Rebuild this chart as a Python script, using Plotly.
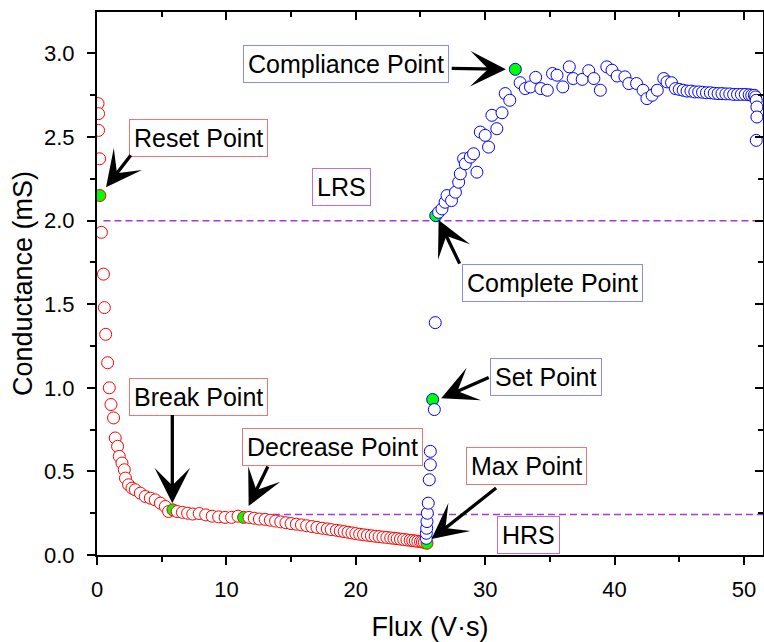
import plotly.graph_objects as go

# ---- Reset sweep (red) ----
red_x = [0.08, 0.12, 0.12, 0.20, 0.22, 0.34, 0.50, 0.57, 0.67, 0.82,
         0.95, 1.08, 1.28, 1.41, 1.59, 1.72, 1.93, 2.11, 2.20, 2.44,
         2.70, 2.96, 3.35, 3.73, 4.12, 4.50, 4.90, 5.28, 5.53, 5.87,
         6.20, 6.60, 7.00, 7.40, 7.90, 8.40, 8.90, 9.40, 9.90, 10.40,
         10.90, 11.33, 11.75, 12.15, 12.55, 13.00, 13.40, 13.80, 14.20, 14.60,
         15.00, 15.40, 15.80, 16.20, 16.60, 17.00, 17.40, 17.80, 18.10, 18.50,
         18.80, 19.10, 19.40, 19.70, 20.00, 20.30, 20.60, 20.90, 21.20, 21.50,
         21.80, 22.10, 22.40, 22.70, 22.95, 23.20, 23.45, 23.70, 23.95, 24.20,
         24.40, 24.60, 24.80, 25.00, 25.15, 25.30, 25.50]
red_y = [2.70, 2.64, 2.54, 2.37, 2.15, 1.93, 1.68, 1.48, 1.32, 1.15,
         1.00, 0.90, 0.82, 0.70, 0.65, 0.59, 0.55, 0.51, 0.46, 0.42,
         0.40, 0.39, 0.37, 0.35, 0.34, 0.33, 0.31, 0.29, 0.26, 0.27,
         0.26, 0.255, 0.25, 0.245, 0.248, 0.24, 0.232, 0.228, 0.225, 0.225,
         0.232, 0.225, 0.225, 0.22, 0.215, 0.213, 0.208, 0.203, 0.198, 0.193,
         0.188, 0.184, 0.18, 0.175, 0.17, 0.165, 0.16, 0.156, 0.152, 0.148,
         0.144, 0.14, 0.136, 0.132, 0.128, 0.124, 0.121, 0.118, 0.115, 0.112,
         0.11, 0.107, 0.105, 0.102, 0.10, 0.098, 0.095, 0.093, 0.09, 0.088,
         0.086, 0.084, 0.082, 0.08, 0.078, 0.076, 0.07]
# highlighted points of the reset sweep: Reset, Break, Decrease, Max
red_key_x = [0.22, 5.87, 11.33, 25.50]

# ---- Set sweep (blue) ----
blue_x = [25.45, 25.45, 25.48, 25.50, 25.53, 25.60, 25.68, 25.76, 25.76, 25.94,
          26.07, 26.14, 26.18, 26.40, 26.66, 26.90, 27.05, 27.40, 27.70, 27.95,
          28.08, 28.33, 28.46, 28.85, 29.10, 29.36, 29.62, 30.00, 30.26, 30.52,
          30.90, 31.30, 31.55, 31.90, 32.33, 32.70, 33.10, 33.50, 33.90, 34.30,
          34.80, 35.20, 35.55, 36.00, 36.50, 36.80, 37.50, 38.00, 38.40, 38.90,
          39.40, 39.80, 40.20, 40.80, 41.10, 41.70, 42.20, 42.50, 42.90, 43.30,
          43.80, 44.05, 44.40, 44.70, 45.00, 45.30, 45.60, 45.90, 46.20, 46.50,
          46.80, 47.10, 47.40, 47.70, 48.00, 48.30, 48.60, 48.90, 49.20, 49.50,
          49.80, 50.10, 50.40, 50.60, 50.80, 50.90, 50.95, 51.00, 51.00, 50.95]
blue_y = [0.10, 0.13, 0.16, 0.20, 0.25, 0.31, 0.45, 0.54, 0.62, 0.93,
          0.87, 1.39, 2.03, 2.05, 2.07, 2.11, 2.15, 2.12, 2.17, 2.23,
          2.28, 2.37, 2.34, 2.38, 2.40, 2.29, 2.53, 2.51, 2.44, 2.63,
          2.55, 2.645, 2.76, 2.72, 2.905, 2.825, 2.79, 2.80, 2.857, 2.79,
          2.78, 2.88, 2.87, 2.80, 2.92, 2.85, 2.845, 2.897, 2.85, 2.78,
          2.92, 2.90, 2.865, 2.86, 2.82, 2.82, 2.78, 2.73, 2.75, 2.78,
          2.85, 2.83, 2.825, 2.79, 2.785, 2.78, 2.775, 2.775, 2.77, 2.77,
          2.768, 2.765, 2.765, 2.762, 2.76, 2.76, 2.758, 2.758, 2.755, 2.755,
          2.755, 2.755, 2.753, 2.75, 2.75, 2.74, 2.72, 2.68, 2.62, 2.48]
# highlighted points of the set sweep: Set, Complete, Compliance
blue_key_x = [25.94, 26.18, 32.33]

# ---- state levels ----
lrs_level = 2.0
lrs_start = 0.5
hrs_level = 0.243
hrs_start = 12.75

x_ticks = [0, 10, 20, 30, 40, 50]
y_ticks = [0.0, 0.5, 1.0, 1.5, 2.0, 2.5, 3.0]
y_tick_text = ["0.0", "0.5", "1.0", "1.5", "2.0", "2.5", "3.0"]

X_RANGE = [0, 51.47]
Y_RANGE = [0, 3.248]

FONT = "Liberation Sans, Arial, sans-serif"
GREEN = "#00FF00"
PURPLE = "#A23BDB"

fig = go.Figure()

# dashed state lines
fig.add_trace(go.Scatter(x=[lrs_start, X_RANGE[1]], y=[lrs_level, lrs_level], mode="lines",
                         line=dict(color=PURPLE, width=1.5, dash="7px,4px"),
                         hoverinfo="skip", showlegend=False))
fig.add_trace(go.Scatter(x=[hrs_start, X_RANGE[1]], y=[hrs_level, hrs_level], mode="lines",
                         line=dict(color=PURPLE, width=1.5, dash="7px,4px"),
                         hoverinfo="skip", showlegend=False))

red_fill = [GREEN if v in red_key_x else "white" for v in red_x]
blue_fill = [GREEN if v in blue_key_x else "white" for v in blue_x]

fig.add_trace(go.Scatter(x=red_x, y=red_y, mode="markers",
                         marker=dict(symbol="circle", size=12, color=red_fill,
                                     line=dict(color="#FF0000", width=1)),
                         showlegend=False))
fig.add_trace(go.Scatter(x=blue_x, y=blue_y, mode="markers",
                         marker=dict(symbol="circle", size=12, color=blue_fill,
                                     line=dict(color="#0000FF", width=1)),
                         showlegend=False))
# helper trace for the mirrored top/right axes
fig.add_trace(go.Scatter(x=[None], y=[None], xaxis="x2", yaxis="y2",
                         mode="markers", showlegend=False, hoverinfo="skip"))

RED_BOX = "#E87878"
BLUE_BOX = "#8C8CF0"
PUR_BOX = "#C070C8"

labels = [
    ("Reset Point", 7.87, 2.497, RED_BOX),
    ("Compliance Point", 19.23, 2.935, BLUE_BOX),
    ("LRS", 18.86, 2.199, PUR_BOX),
    ("Complete Point", 35.19, 1.625, BLUE_BOX),
    ("Set Point", 34.67, 1.062, BLUE_BOX),
    ("Break Point", 7.83, 0.945, RED_BOX),
    ("Decrease Point", 18.21, 0.646, RED_BOX),
    ("Max Point", 33.23, 0.531, RED_BOX),
    ("HRS", 33.32, 0.120, PUR_BOX),
]
# arrows: (tail x, tail y, tip x, tip y)
arrows = [
    (2.70, 2.40, 0.70, 2.20),
    (27.30, 2.911, 31.60, 2.905),
    (28.08, 1.734, 26.40, 2.004),
    (30.39, 1.066, 26.60, 0.937),
    (5.82, 0.847, 5.82, 0.309),
    (13.26, 0.538, 11.72, 0.293),
    (30.96, 0.408, 25.85, 0.095),
]

annotations = []
for txt, x, y, col in labels:
    annotations.append(dict(text=txt, x=x, y=y, xref="x", yref="y", showarrow=False,
                            xanchor="center", yanchor="middle",
                            font=dict(family=FONT, size=25, color="black"),
                            bordercolor=col, borderwidth=1, borderpad=4, bgcolor="white"))
for tx, ty, hx, hy in arrows:
    annotations.append(dict(text="", x=hx, y=hy, xref="x", yref="y",
                            ax=tx, ay=ty, axref="x", ayref="y", showarrow=True,
                            arrowhead=3, arrowsize=1.8, arrowwidth=3.3,
                            arrowcolor="black", standoff=0))

axis_common = dict(showgrid=False, zeroline=False, showline=True, linecolor="black",
                   linewidth=2, tickcolor="black", tickwidth=2, ticklen=8)

fig.update_layout(
    width=764, height=642,
    margin=dict(l=97, r=1, t=12, b=87),
    paper_bgcolor="white", plot_bgcolor="white",
    font=dict(family=FONT, color="black"),
    annotations=annotations,
    xaxis=dict(range=X_RANGE, tickvals=x_ticks, ticks="outside",
               tickfont=dict(size=22, family=FONT), ticklabelstandoff=6,
               title=dict(text="Flux (V·s)", font=dict(size=27, family=FONT), standoff=16),
               minor=dict(ticks="outside", dtick=5, ticklen=5, tickwidth=2, tickcolor="black"),
               **axis_common),
    yaxis=dict(range=Y_RANGE, tickvals=y_ticks, ticktext=y_tick_text, ticks="outside",
               tickfont=dict(size=22, family=FONT), ticklabelstandoff=8,
               title=dict(text="Conductance (mS)", font=dict(size=27, family=FONT), standoff=4),
               minor=dict(ticks="outside", dtick=0.25, ticklen=5, tickwidth=2, tickcolor="black"),
               **axis_common),
    xaxis2=dict(range=X_RANGE, overlaying="x", side="top", anchor="y2", tickvals=x_ticks,
                ticks="inside", showticklabels=False,
                minor=dict(ticks="inside", dtick=5, ticklen=5, tickwidth=2, tickcolor="black"),
                **axis_common),
    yaxis2=dict(range=Y_RANGE, overlaying="y", side="right", anchor="x2", tickvals=y_ticks,
                ticks="inside", showticklabels=False,
                minor=dict(ticks="inside", dtick=0.25, ticklen=5, tickwidth=2, tickcolor="black"),
                **axis_common),
)

fig.write_html("out.html", config={"displayModeBar": False},
               post_script="document.body.style.margin='0';")
